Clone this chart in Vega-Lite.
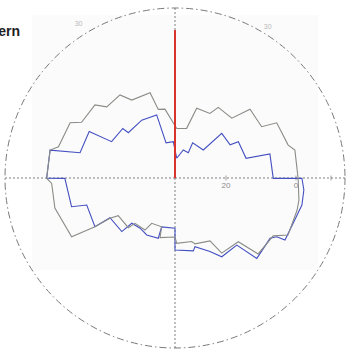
{
  "$schema": "https://vega.github.io/schema/vega-lite/v6.json",
  "width": 346,
  "height": 358,
  "padding": 0,
  "autosize": {"type": "none"},
  "background": "white",
  "config": {"view": {"stroke": null}},
  "datasets": {
    "pattern": [
      {"s": "blue", "i": 1, "angle": 4.9, "level": -28.9},
      {"s": "blue", "i": 2, "angle": 16.5, "level": -26.2},
      {"s": "blue", "i": 3, "angle": 27.7, "level": -26.4},
      {"s": "blue", "i": 4, "angle": 26.6, "level": -23.3},
      {"s": "blue", "i": 5, "angle": 45.3, "level": -23.2},
      {"s": "blue", "i": 6, "angle": 46.3, "level": -16.1},
      {"s": "blue", "i": 7, "angle": 59.0, "level": -16.2},
      {"s": "blue", "i": 8, "angle": 60.2, "level": -13.7},
      {"s": "blue", "i": 9, "angle": 74.5, "level": -13.5},
      {"s": "blue", "i": 10, "angle": 75.8, "level": -6.6},
      {"s": "blue", "i": 11, "angle": 90.2, "level": -6.5},
      {"s": "blue", "i": 12, "angle": 90.1, "level": 1.7},
      {"s": "blue", "i": 13, "angle": 95.3, "level": 2.4},
      {"s": "blue", "i": 14, "angle": 102.0, "level": 2.5},
      {"s": "blue", "i": 15, "angle": 105.9, "level": 2.0},
      {"s": "blue", "i": 16, "angle": 119.4, "level": 1.5},
      {"s": "blue", "i": 17, "angle": 120.0, "level": -1.0},
      {"s": "blue", "i": 18, "angle": 122.4, "level": -2.4},
      {"s": "blue", "i": 19, "angle": 134.5, "level": -1.8},
      {"s": "blue", "i": 20, "angle": 137.4, "level": -8.5},
      {"s": "blue", "i": 21, "angle": 149.3, "level": -8.4},
      {"s": "blue", "i": 22, "angle": 154.6, "level": -11.3},
      {"s": "blue", "i": 23, "angle": 163.8, "level": -14.1},
      {"s": "blue", "i": 24, "angle": 165.9, "level": -13.1},
      {"s": "blue", "i": 25, "angle": 180.0, "level": -14.0},
      {"s": "blue", "i": 26, "angle": 180.0, "level": -20.2},
      {"s": "blue", "i": 27, "angle": 195.3, "level": -20.1},
      {"s": "blue", "i": 28, "angle": 195.5, "level": -16.7},
      {"s": "blue", "i": 29, "angle": 206.4, "level": -16.4},
      {"s": "blue", "i": 30, "angle": 214.8, "level": -17.1},
      {"s": "blue", "i": 31, "angle": 223.7, "level": -16.7},
      {"s": "blue", "i": 32, "angle": 224.8, "level": -13.0},
      {"s": "blue", "i": 33, "angle": 238.6, "level": -12.8},
      {"s": "blue", "i": 34, "angle": 238.7, "level": -7.8},
      {"s": "blue", "i": 35, "angle": 253.0, "level": -8.2},
      {"s": "blue", "i": 36, "angle": 254.5, "level": -3.9},
      {"s": "blue", "i": 37, "angle": 269.8, "level": -3.1},
      {"s": "blue", "i": 38, "angle": 269.9, "level": 2.1},
      {"s": "blue", "i": 39, "angle": 282.6, "level": 2.0},
      {"s": "blue", "i": 40, "angle": 284.9, "level": -6.5},
      {"s": "blue", "i": 41, "angle": 298.4, "level": -6.7},
      {"s": "blue", "i": 42, "angle": 299.8, "level": -13.7},
      {"s": "blue", "i": 43, "angle": 313.5, "level": -14.0},
      {"s": "blue", "i": 44, "angle": 314.1, "level": -16.0},
      {"s": "blue", "i": 45, "angle": 330.1, "level": -15.5},
      {"s": "blue", "i": 46, "angle": 343.8, "level": -15.8},
      {"s": "blue", "i": 47, "angle": 345.7, "level": -24.2},
      {"s": "blue", "i": 48, "angle": 357.3, "level": -24.2},
      {"s": "blue", "i": 49, "angle": 364.9, "level": -28.9},
      {"s": "grey", "i": 1, "angle": 2.0, "level": -20.4},
      {"s": "grey", "i": 2, "angle": 13.2, "level": -20.0},
      {"s": "grey", "i": 3, "angle": 17.3, "level": -13.7},
      {"s": "grey", "i": 4, "angle": 28.4, "level": -13.6},
      {"s": "grey", "i": 5, "angle": 31.5, "level": -10.9},
      {"s": "grey", "i": 6, "angle": 43.5, "level": -11.0},
      {"s": "grey", "i": 7, "angle": 47.5, "level": -5.5},
      {"s": "grey", "i": 8, "angle": 59.4, "level": -5.8},
      {"s": "grey", "i": 9, "angle": 61.5, "level": -1.5},
      {"s": "grey", "i": 10, "angle": 73.8, "level": -0.9},
      {"s": "grey", "i": 11, "angle": 76.9, "level": 0.6},
      {"s": "grey", "i": 12, "angle": 90.1, "level": 0.6},
      {"s": "grey", "i": 13, "angle": 100.1, "level": 1.4},
      {"s": "grey", "i": 14, "angle": 104.7, "level": 1.5},
      {"s": "grey", "i": 15, "angle": 116.8, "level": 1.6},
      {"s": "grey", "i": 16, "angle": 120.5, "level": -2.0},
      {"s": "grey", "i": 17, "angle": 132.4, "level": -2.4},
      {"s": "grey", "i": 18, "angle": 135.2, "level": -8.9},
      {"s": "grey", "i": 19, "angle": 148.1, "level": -9.3},
      {"s": "grey", "i": 20, "angle": 150.9, "level": -14.0},
      {"s": "grey", "i": 21, "angle": 163.1, "level": -14.9},
      {"s": "grey", "i": 22, "angle": 165.3, "level": -15.8},
      {"s": "grey", "i": 23, "angle": 178.5, "level": -15.9},
      {"s": "grey", "i": 24, "angle": 180.0, "level": -17.7},
      {"s": "grey", "i": 25, "angle": 194.1, "level": -17.0},
      {"s": "grey", "i": 26, "angle": 195.3, "level": -20.1},
      {"s": "grey", "i": 27, "angle": 207.2, "level": -20.0},
      {"s": "grey", "i": 28, "angle": 210.0, "level": -17.4},
      {"s": "grey", "i": 29, "angle": 221.4, "level": -17.3},
      {"s": "grey", "i": 30, "angle": 223.2, "level": -15.1},
      {"s": "grey", "i": 31, "angle": 236.4, "level": -15.1},
      {"s": "grey", "i": 32, "angle": 238.2, "level": -12.7},
      {"s": "grey", "i": 33, "angle": 238.7, "level": -7.8},
      {"s": "grey", "i": 34, "angle": 240.4, "level": -0.6},
      {"s": "grey", "i": 35, "angle": 256.0, "level": 0.8},
      {"s": "grey", "i": 36, "angle": 267.5, "level": 0.7},
      {"s": "grey", "i": 37, "angle": 269.9, "level": 2.1},
      {"s": "grey", "i": 38, "angle": 282.6, "level": 2.0},
      {"s": "grey", "i": 39, "angle": 285.0, "level": -0.1},
      {"s": "grey", "i": 40, "angle": 297.8, "level": -0.7},
      {"s": "grey", "i": 41, "angle": 300.8, "level": -3.5},
      {"s": "grey", "i": 42, "angle": 312.4, "level": -3.6},
      {"s": "grey", "i": 43, "angle": 316.2, "level": -6.4},
      {"s": "grey", "i": 44, "angle": 326.5, "level": -6.1},
      {"s": "grey", "i": 45, "angle": 331.0, "level": -9.1},
      {"s": "grey", "i": 46, "angle": 343.7, "level": -9.2},
      {"s": "grey", "i": 47, "angle": 346.3, "level": -14.4},
      {"s": "grey", "i": 48, "angle": 351.7, "level": -14.7},
      {"s": "grey", "i": 49, "angle": 362.0, "level": -20.4}
    ],
    "spokes": [
      {"angle": 0, "from": -34.57, "to": 14},
      {"angle": 90, "from": -34.57, "to": 14},
      {"angle": 180, "from": -34.57, "to": 14},
      {"angle": 270, "from": -34.57, "to": 14}
    ],
    "ticks": [
      {"level": -20}, {"level": 0}, {"level": 10}
    ],
    "labels": [
      {"label": "20", "level": -20},
      {"label": "0", "level": 0}
    ],
    "marker": [
      {"angle": 0, "from": -34.57, "to": 7.7}
    ],
    "angles": [
      {"label": "30", "angle": 328, "level": 17.4},
      {"label": "30", "angle": 31.6, "level": 16.0}
    ]
  },
  "layer": [
    {
      "data": {"values": [{"note": "paper"}]},
      "mark": {"type": "rect", "fill": "#fbfbfb"},
      "encoding": {
        "x": {"datum": -40.86, "type": "quantitative", "scale": {"domain": [-50, 48.857], "nice": false, "zero": false}, "axis": null},
        "x2": {"datum": 40.86},
        "y": {"datum": 46.57, "type": "quantitative", "scale": {"domain": [-51.4286, 50.857], "nice": false, "zero": false}, "axis": null},
        "y2": {"datum": -26.29}
      }
    },
    {
      "data": {"name": "spokes"},
      "transform": [
        {"calculate": "(datum.from + 34.57) * sin(datum.angle * PI / 180)", "as": "xs"},
        {"calculate": "(datum.from + 34.57) * cos(datum.angle * PI / 180)", "as": "ys"},
        {"calculate": "(datum.to + 34.57) * sin(datum.angle * PI / 180)", "as": "xe"},
        {"calculate": "(datum.to + 34.57) * cos(datum.angle * PI / 180)", "as": "ye"}
      ],
      "mark": {"type": "rule", "color": "#707070", "strokeWidth": 0.9, "strokeDash": [2, 2]},
      "encoding": {
        "x": {"field": "xs", "type": "quantitative"},
        "y": {"field": "ys", "type": "quantitative"},
        "x2": {"field": "xe"},
        "y2": {"field": "ye"}
      }
    },
    {
      "data": {"values": [{"note": "outer ring"}]},
      "mark": {"type": "point", "shape": "circle", "filled": false, "size": 115600, "stroke": "#6a6a6a", "strokeWidth": 0.9, "strokeDash": [7, 3, 1.5, 3], "opacity": 1},
      "encoding": {
        "x": {"datum": 0, "type": "quantitative"},
        "y": {"datum": 0, "type": "quantitative"}
      }
    },
    {
      "data": {"name": "ticks"},
      "transform": [
        {"calculate": "datum.level + 34.57", "as": "xr"},
        {"calculate": "-0.7", "as": "ya"},
        {"calculate": "0.7", "as": "yb"}
      ],
      "mark": {"type": "rule", "color": "#888888", "strokeWidth": 0.8},
      "encoding": {
        "x": {"field": "xr", "type": "quantitative"},
        "y": {"field": "ya", "type": "quantitative"},
        "y2": {"field": "yb"}
      }
    },
    {
      "data": {"name": "labels"},
      "transform": [
        {"calculate": "datum.level + 34.57", "as": "xr"}
      ],
      "mark": {"type": "text", "color": "#8a8a8a", "fontSize": 8, "font": "Liberation Sans", "baseline": "middle", "align": "center", "dy": 8.5},
      "encoding": {
        "x": {"field": "xr", "type": "quantitative"},
        "y": {"datum": 0, "type": "quantitative"},
        "text": {"field": "label", "type": "nominal"}
      }
    },
    {
      "data": {"name": "pattern"},
      "transform": [
        {"calculate": "(datum.level + 34.57) * sin(datum.angle * PI / 180)", "as": "px"},
        {"calculate": "(datum.level + 34.57) * cos(datum.angle * PI / 180)", "as": "py"}
      ],
      "mark": {"type": "line", "strokeWidth": 1.1, "strokeJoin": "miter"},
      "encoding": {
        "x": {"field": "px", "type": "quantitative"},
        "y": {"field": "py", "type": "quantitative"},
        "order": {"field": "i", "type": "quantitative"},
        "detail": {"field": "s", "type": "nominal"},
        "color": {"field": "s", "type": "nominal", "scale": {"domain": ["grey", "blue"], "range": ["#8a8c86", "#4450c2"]}, "legend": null}
      }
    },
    {
      "data": {"name": "marker"},
      "transform": [
        {"calculate": "(datum.from + 34.57) * sin(datum.angle * PI / 180)", "as": "xs"},
        {"calculate": "(datum.from + 34.57) * cos(datum.angle * PI / 180)", "as": "ys"},
        {"calculate": "(datum.to + 34.57) * sin(datum.angle * PI / 180)", "as": "xe"},
        {"calculate": "(datum.to + 34.57) * cos(datum.angle * PI / 180)", "as": "ye"}
      ],
      "mark": {"type": "rule", "color": "#d8342c", "strokeWidth": 2},
      "encoding": {
        "x": {"field": "xs", "type": "quantitative"},
        "y": {"field": "ys", "type": "quantitative"},
        "x2": {"field": "xe"},
        "y2": {"field": "ye"}
      }
    },
    {
      "data": {"name": "angles"},
      "transform": [
        {"calculate": "(datum.level + 34.57) * sin(datum.angle * PI / 180)", "as": "xe"},
        {"calculate": "(datum.level + 34.57) * cos(datum.angle * PI / 180)", "as": "ye"}
      ],
      "mark": {"type": "text", "color": "#b8b8b8", "fontSize": 7, "font": "Liberation Sans", "baseline": "middle", "align": "center"},
      "encoding": {
        "x": {"field": "xe", "type": "quantitative"},
        "y": {"field": "ye", "type": "quantitative"},
        "text": {"field": "label", "type": "nominal"}
      }
    },
    {
      "data": {"values": [{"title": "Pattern"}]},
      "mark": {"type": "text", "color": "#1e1e1e", "fontSize": 14, "fontWeight": "bold", "font": "Liberation Sans", "align": "right", "baseline": "alphabetic"},
      "encoding": {
        "x": {"datum": -44.3, "type": "quantitative"},
        "y": {"datum": 40.6, "type": "quantitative"},
        "text": {"field": "title", "type": "nominal"}
      }
    }
  ]
}
